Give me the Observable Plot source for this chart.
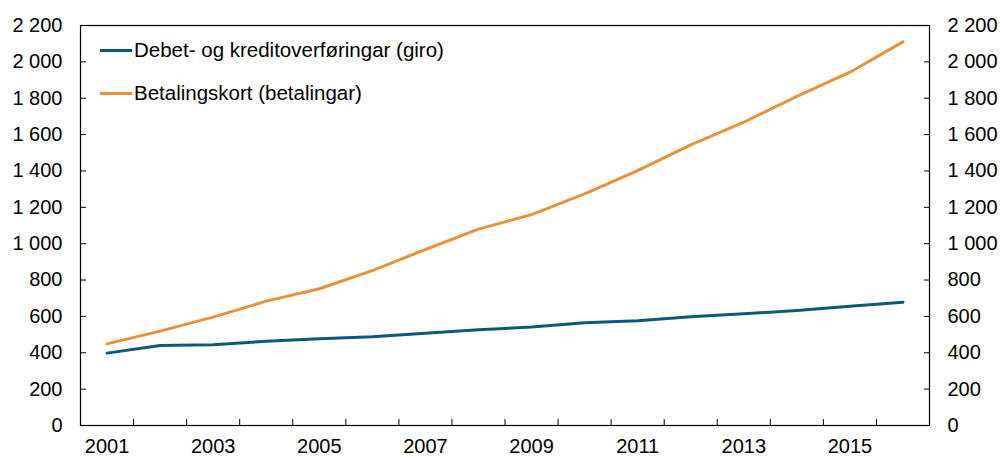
<!DOCTYPE html>
<html><head><meta charset="utf-8">
<script src="https://cdn.jsdelivr.net/npm/d3@7"></script>
<script src="https://cdn.jsdelivr.net/npm/@observablehq/plot@0.6"></script>
<style>
body{margin:0;background:#fff;font-family:"Liberation Sans",Arial,sans-serif}
#wrap{position:relative;width:1000px;height:458px}
.leg{position:absolute;left:100px;height:24px;display:flex;align-items:center;font-size:20.5px;color:#000;white-space:nowrap}
.sw{width:32px;height:3px;margin-right:2px}
</style></head><body><div id="wrap"></div>
<script>
const years = [2001,2002,2003,2004,2005,2006,2007,2008,2009,2010,2011,2012,2013,2014,2015,2016];
const giro = [398,440,444,463,477,488,508,526,542,565,576,598,614,632,656,678];
const kort = [449,519,596,684,752,852,968,1080,1160,1274,1402,1543,1668,1810,1943,2110];
const seriesNames = ["Debet- og kreditoverføringar (giro)","Betalingskort (betalingar)"];
const colors = ["#0b5a7d","#e8923a"];
const yTicks = [0,200,400,600,800,1000,1200,1400,1600,1800,2000,2200];
const xLabelTicks = [2001,2003,2005,2007,2009,2011,2013,2015];

const xTickMarks = years.slice(0,-1).map(y => y + 0.5);
const fmt = d3.formatLocale({decimal:",", thousands:" ", grouping:[3], currency:["",""]}).format(",");
const rows = [];
years.forEach((y,i) => { rows.push({year:y, value:giro[i], s:seriesNames[0]}); });
years.forEach((y,i) => { rows.push({year:y, value:kort[i], s:seriesNames[1]}); });

const chart = Plot.plot({
  width:1000, height:458,
  marginLeft:80, marginRight:71, marginTop:25, marginBottom:33,
  style:{fontSize:"20px", fontFamily:"Liberation Sans, Arial, sans-serif", color:"#000", background:"#fff"},
  x:{domain:[years[0]-0.5, years[years.length-1]+0.5]},
  y:{domain:[0,2200]},
  color:{domain:seriesNames, range:colors},
  marks:[
    Plot.axisY({anchor:"left", ticks:yTicks, tickSize:0, tickPadding:18, tickFormat:fmt, label:null, fontSize:20}),
    Plot.axisY({anchor:"left", ticks:yTicks, tickSize:-6, tickFormat:()=>"", label:null}),
    Plot.axisY({anchor:"right", ticks:yTicks, tickSize:0, tickPadding:18, tickFormat:fmt, label:null, fontSize:20}),
    Plot.axisY({anchor:"right", ticks:yTicks, tickSize:-6, tickFormat:()=>"", label:null}),
    Plot.axisX({ticks:xLabelTicks, tickSize:0, tickPadding:13, tickFormat:d=>String(d), label:null, fontSize:20}),
    Plot.axisX({ticks:xTickMarks, tickSize:-6, tickFormat:()=>"", label:null}),
    Plot.frame({stroke:"#000", strokeWidth:1.2}),
    Plot.line(rows, {x:"year", y:"value", z:"s", stroke:"s", strokeWidth:3})
  ]
});
const wrap = document.getElementById("wrap");
wrap.appendChild(chart);
const tops = [38, 81];
seriesNames.forEach((n,i) => {
  const d = document.createElement("div");
  d.className = "leg";
  d.style.top = tops[i] + "px";
  d.innerHTML = `<span class="sw" style="background:${colors[i]}"></span><span>${n}</span>`;
  wrap.appendChild(d);
});
</script></body></html>
